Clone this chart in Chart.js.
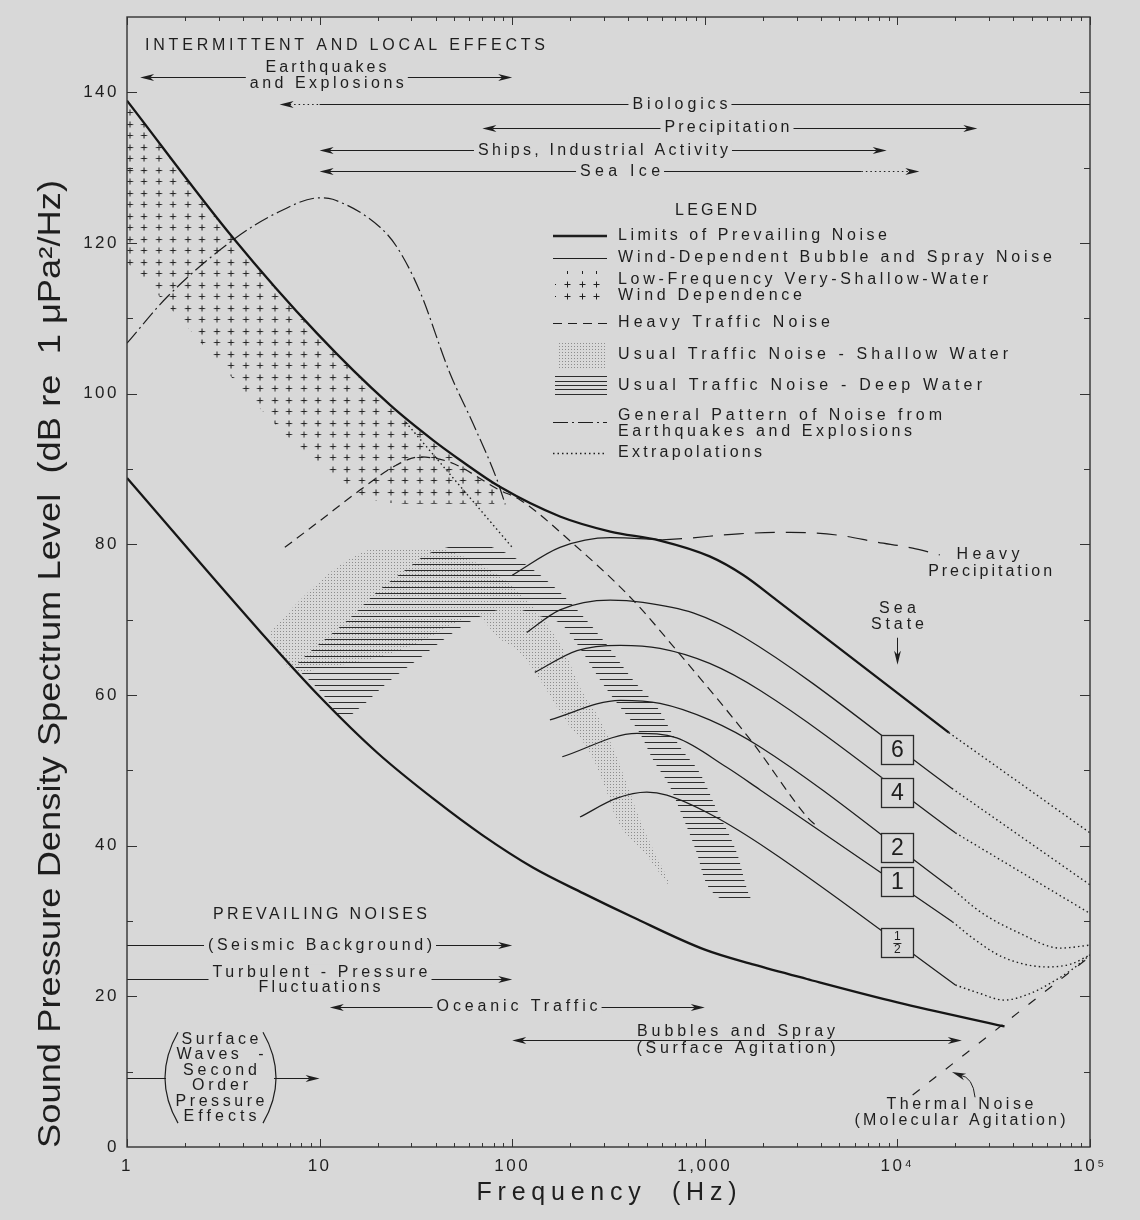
<!DOCTYPE html>
<html>
<head>
<meta charset="utf-8">
<script src="https://cdn.jsdelivr.net/npm/chart.js@4.4.1/dist/chart.umd.min.js"></script>
<style>
  html, body { margin: 0; padding: 0; background: #d8d8d8; }
  canvas { display: block; }
</style>
</head>
<body>
<canvas id="myChart" width="1140" height="1220"></canvas>
<script>
// ---- values: [frequency Hz, level dB re 1 uPa^2/Hz] ----
var freqTicks = [1, 10, 100, 1000, 10000, 100000];
var freqTickLabels = ['1', '10', '100', '1,000', '10\u2074', '10\u2075'];
var dbTicks = [0, 20, 40, 60, 80, 100, 120, 140];

var upperLimit = [[1,138.9],[3.55,120.7],[9.7,108],[23.2,98.5],[38.9,93.8],[53.6,91.2],[86.7,87.6],[177,83.7],[323,81.7],[585,80.5],[1060,78.4],[1590,75.9],[2360,72.6],[18500,55]];
var upperLimitExtrap = [[18500,55],[100000,41.7]];
var lowerLimit = [[1,88.8],[5,68.2],[10,59.8],[20,52.3],[40,46],[70,41.4],[128,37.1],[233,33.7],[424,30.5],[1000,26.2],[1800,24.2],[3390,22.3],[10000,19.2],[36000,16]];

var windTop = [[100,75.9],[177,79.6],[323,80.9],[600,80.6]];
var seaState6 = [[119,68.3],[177,71.3],[323,72.6],[477,72.3],[870,70.9],[1590,67.7],[19200,47.6]];
var seaState6Extrap = [[19200,47.6],[100000,34.8]];
var seaState4 = [[131,63],[217,65.9],[364,66.6],[585,66.2],[1060,64.2],[1940,60.6],[20000,41.7]];
var seaState4Extrap = [[20000,41.7],[100000,31]];
var seaState2 = [[157,56.7],[364,59.3],[585,58.9],[1060,56.7],[1940,53.1],[19000,34.4]];
var seaState2Extrap = [[19000,34.4],[27000,31.2],[43000,28.4],[70000,26.4],[100000,26.8]];
var seaState1 = [[182,51.8],[445,54.9],[715,54.3],[1300,50.4],[1940,47.4],[19300,29.9]];
var seaState1Extrap = [[19300,29.9],[25000,27.6],[35300,25.2],[60000,23.9],[80000,24.3],[100000,25.5]];
var seaStateHalf = [[225,43.8],[350,46.3],[500,47.1],[635,46.7],[1100,44],[2160,39.4],[20000,21.5]];
var seaStateHalfExtrap = [[20000,21.5],[26000,20.5],[36000,19.5],[48000,20.3],[60000,21.5],[80000,23.5],[100000,25.5]];

var heavyTraffic = [[6.6,79.6],[10,83.1],[16.2,87.2],[25,90.5],[33,91.6],[47.5,90.9],[86,87.2],[110,85.9],[207,80.1],[424,72.6],[715,65.9],[1780,53.6],[3400,43.8],[3770,42.7]];
var heavyPrecip = [[600,80.6],[805,80.8],[1500,81.4],[2770,81.6],[5000,81.2],[7800,80.3],[12000,79.5],[16600,78.6]];
var thermalNoise = [[12000,6.9],[100000,25.3]];
var earthquakes = [[1,106.7],[1.61,112.8],[3.55,120.4],[6,124],[10.05,126],[11.7,125.8],[20.6,122.1],[25.3,119.4],[33,113.7],[47.5,102.7],[62.7,96],[83.6,88.5],[92,85.3]];
var lowFreqExtrap = [[28,96.2],[100,79.6]];

var shallowWindLower = [[1,117.4],[16.6,86.5],[28,85.4],[81,85.4]];
var deepOuter = [[7.4,63.8],[8.6,65.4],[13.9,69.9],[20.1,73.8],[28.5,76.8],[34.4,78.4],[39.7,79.1],[55,79.9],[68,79.9],[88.5,79.1],[148,75.4],[225,70.9],[303,67],[424,62],[565,58.4],[743,53.1],[944,49.6],[1157,44.7],[1469,39],[1717,33.2],[1890,32.5]];
var deepInner = [[7.4,63.8],[10,60.6],[13.5,57],[16,58.2],[22.4,61.6],[32,64.6],[46,67.7],[62,69.9],[98,71.5],[134,70.6],[182,69.3],[233,65.6],[286,62],[363,58.4],[461,54.9],[539,51.4],[660,47.8],[743,44.7],[910,39],[1002,35.4],[1172,33.2],[1523,32.5],[1890,32.5]];
var shallowOuter = [[5.5,68.2],[8.2,73],[13.2,77.5],[20.6,79.5],[37.5,79.5],[60,78],[100,74.5],[140,70.5],[188,65.6],[225,61],[286,56.7],[342,52.3],[399,47.8],[461,43.4],[551,39],[644,35.4],[660,34.5]];
var shallowInner = [[5.5,68.2],[6.5,64.5],[8,63],[10,63.5],[20,65],[33,67],[50,69.5],[64,70.5],[86,67.5],[110,65.6],[148,61],[188,56.7],[254,52.3],[303,47.8],[350,43.4],[489,39],[621,35.4],[660,34.5]];

var seaStateLabels = ['6', '4', '2', '1', '\u00bd'];
var seaStateBoxDb = [52.7, 47.1, 39.7, 35.2, 27.1];

// noise source ranges (Hz) drawn as arrows at a given level
var sourceArrows = [
  {db: 142.1, from: 1.17, to: 100, left: true, right: true},
  {db: 138.4, from: 6.2, to: 100000, left: true, dotTo: 10},
  {db: 135.3, from: 70, to: 26000, left: true, right: true},
  {db: 132.3, from: 10, to: 8800, left: true, right: true},
  {db: 129.5, from: 10, to: 13000, left: true, right: true, dotFrom: 6500},
  {db: 26.8, from: 1, to: 100, right: true},
  {db: 22.3, from: 1, to: 100, right: true},
  {db: 18.6, from: 11.3, to: 1000, left: true, right: true},
  {db: 14.2, from: 100, to: 21600, left: true, right: true},
  {db: 9.2, from: 1, to: 10, right: true}
];
var sourceLabels = [
  {t: 'INTERMITTENT AND LOCAL EFFECTS', f: 1.24, db: 146.2, size: 16, w: 400, align: 'left'},
  {t: 'Earthquakes', f: 10.8, db: 143.3, w: 121, knock: true},
  {t: 'and Explosions', f: 10.9, db: 141.2, w: 154, knock: true},
  {t: 'Biologics', f: 743, db: 138.4, w: 95, knock: true},
  {t: 'Precipitation', f: 1304, db: 135.35, w: 125, knock: true},
  {t: 'Ships, Industrial Activity', f: 296, db: 132.3, w: 250, knock: true},
  {t: 'Sea Ice', f: 363, db: 129.5, w: 80, knock: true},
  {t: 'PREVAILING NOISES', f: 10.05, db: 30.8, w: 214},
  {t: '(Seismic Background)', f: 10.05, db: 26.8, w: 224, knock: true},
  {t: 'Turbulent - Pressure', f: 10.05, db: 23.2, w: 215, knock: true},
  {t: 'Fluctuations', f: 10, db: 21.2, w: 122, knock: true},
  {t: 'Oceanic Traffic', f: 106, db: 18.6, w: 161, knock: true},
  {t: 'Bubbles and Spray', f: 1452, db: 15.3, w: 198, knock: true},
  {t: '(Surface Agitation)', f: 1452, db: 13.0, w: 199, knock: true},
  {t: 'Thermal Noise', f: 21130, db: 5.6, w: 147},
  {t: '(Molecular Agitation)', f: 21130, db: 3.45, w: 211},
  {t: 'Heavy', f: 29540, db: 78.6, w: 63},
  {t: 'Precipitation', f: 30300, db: 76.4, w: 124},
  {t: 'Sea', f: 10000, db: 71.5, w: 37},
  {t: 'State', f: 10000, db: 69.4, w: 53}
];
var surfaceWaveLines = ['Surface', 'Waves  -', 'Second', 'Order', 'Pressure', 'Effects'];
var surfaceWaveDb = [14.3, 12.2, 10.1, 8.1, 6.0, 4.0];
var surfaceWaveW = [77, 87, 74, 56, 89, 73];

// ---- styles ----
var BG = '#d8d8d8';
var INK = '#1e1e1e';
var FAMILY = "'Liberation Sans', Arial, Helvetica, sans-serif";
var LABEL_SIZE = 16;

var canvas = document.getElementById('myChart');
var ctx0 = canvas.getContext('2d');

function makePattern(w, h, draw) {
  var c = document.createElement('canvas');
  c.width = w; c.height = h;
  draw(c.getContext('2d'));
  return ctx0.createPattern(c, 'repeat');
}
var plusPattern = makePattern(29, 23, function (g) {
  g.strokeStyle = '#262626'; g.lineWidth = 1;
  [[7.5, 5.5], [21.5, 5.5], [7.5, 17.5], [21.5, 17.5]].forEach(function (p) {
    g.beginPath();
    g.moveTo(p[0] - 3, p[1]); g.lineTo(p[0] + 3, p[1]);
    g.moveTo(p[0], p[1] - 3); g.lineTo(p[0], p[1] + 3);
    g.stroke();
  });
});
if (plusPattern.setTransform) plusPattern.setTransform(new DOMMatrix([1, 0, 0, 1, 6.5, 15]));
var hatchPattern = makePattern(8, 23, function (g) {
  g.fillStyle = '#2c2c2c';
  [0, 6, 12, 18].forEach(function (y) { g.fillRect(0, y, 8, 1); });
});
var stipplePattern = makePattern(3, 3, function (g) {
  g.fillStyle = '#8c8c8c';
  g.fillRect(1, 1, 1, 1);
});

var THICK = {borderWidth: 2.3, borderColor: '#161616'};
var THIN = {borderWidth: 1.25};
var DOTTED = {borderWidth: 1.4, borderDash: [1.5, 3]};
var HIDDEN = {borderWidth: 0, borderColor: 'rgba(0,0,0,0)'};

var datasets = [];
function addLine(points, style) {
  var ds = Object.assign({
    data: points.map(function (p) { return {x: p[0], y: p[1]}; }),
    borderColor: INK, borderWidth: 1.2, pointRadius: 0, fill: false,
    cubicInterpolationMode: 'monotone', borderJoinStyle: 'round'
  }, style);
  datasets.push(ds);
  return datasets.length - 1;
}

var iUpper = addLine(upperLimit, Object.assign({backgroundColor: plusPattern}, THICK));
addLine(upperLimitExtrap, DOTTED);
addLine(lowerLimit, THICK);
addLine(windTop, THIN);
addLine(seaState6, THIN);
addLine(seaState6Extrap, DOTTED);
addLine(seaState4, THIN);
addLine(seaState4Extrap, DOTTED);
addLine(seaState2, THIN);
addLine(seaState2Extrap, DOTTED);
addLine(seaState1, THIN);
addLine(seaState1Extrap, DOTTED);
addLine(seaStateHalf, THIN);
addLine(seaStateHalfExtrap, DOTTED);
addLine(heavyTraffic, {borderWidth: 1.2, borderDash: [9, 6]});
addLine(heavyPrecip, {borderWidth: 1.2, borderDash: [20, 11]});
addLine(thermalNoise, {borderWidth: 1.2, borderDash: [9, 12]});
addLine(earthquakes, {borderWidth: 1.2, borderDash: [15, 4, 2, 4]});
addLine(lowFreqExtrap, DOTTED);
var iPlusLower = addLine(shallowWindLower, HIDDEN);
datasets[iUpper].fill = iPlusLower;
addLine(deepOuter, Object.assign({fill: '+1', backgroundColor: hatchPattern}, HIDDEN));
addLine(deepInner, HIDDEN);
addLine(shallowOuter, Object.assign({fill: '+1', backgroundColor: stipplePattern}, HIDDEN));
addLine(shallowInner, HIDDEN);

// ---- drawing helpers ----
function text(ctx, s, x, y, size, w, align, knock) {
  ctx.font = size + 'px ' + FAMILY;
  ctx.letterSpacing = '0px';
  var nat = ctx.measureText(s).width;
  var width = w || nat;
  var sp = (w && s.length > 1) ? (w - nat) / (s.length - 1) : 0;
  var x0 = align === 'left' ? x : x - width / 2;
  if (knock) {
    ctx.fillStyle = BG;
    ctx.fillRect(x0 - 4, y - 8, width + 8, 16);
  }
  ctx.fillStyle = INK;
  ctx.letterSpacing = sp + 'px';
  ctx.textAlign = 'left';
  ctx.textBaseline = 'middle';
  ctx.fillText(s, x0, y);
  ctx.letterSpacing = '0px';
}
function head(ctx, x, y, ang) {
  var L = 14, W = 3.4;
  var c = Math.cos(ang), s = Math.sin(ang);
  ctx.beginPath();
  ctx.moveTo(x, y);
  ctx.lineTo(x - L * c + W * s, y - L * s - W * c);
  ctx.lineTo(x - 10 * c, y - 10 * s);
  ctx.lineTo(x - L * c - W * s, y - L * s + W * c);
  ctx.closePath();
  ctx.fill();
}
function seg(ctx, x1, y1, x2, y2, dash) {
  ctx.setLineDash(dash || []);
  ctx.beginPath(); ctx.moveTo(x1, y1); ctx.lineTo(x2, y2); ctx.stroke();
  ctx.setLineDash([]);
}

function drawAnnotations(chart) {
  var ctx = chart.ctx, xs = chart.scales.x, ys = chart.scales.y;
  var X = function (f) { return xs.getPixelForValue(f); };
  var Y = function (d) { return ys.getPixelForValue(d); };
  ctx.save();
  ctx.strokeStyle = INK; ctx.fillStyle = INK; ctx.lineWidth = 1;

  sourceArrows.forEach(function (a) {
    var y = Math.round(Y(a.db)) + 0.5;
    var x1 = X(a.from), x2 = X(a.to);
    var s = a.left ? x1 + 10 : x1, e = a.right ? x2 - 10 : x2;
    if (a.dotTo) { seg(ctx, s, y, X(a.dotTo), y, [1.5, 3]); seg(ctx, X(a.dotTo), y, e, y); }
    else if (a.dotFrom) { seg(ctx, s, y, X(a.dotFrom), y); seg(ctx, X(a.dotFrom), y, e, y, [1.5, 3]); }
    else seg(ctx, s, y, e, y);
    if (a.left) head(ctx, x1, y, Math.PI);
    if (a.right) head(ctx, x2, y, 0);
  });

  sourceLabels.forEach(function (l) {
    text(ctx, l.t, X(l.f), Y(l.db), l.size || LABEL_SIZE, l.w, l.align, l.knock);
  });

  // surface waves block with its big brackets
  var cx = X(3.04), top = Y(15.5), bot = Y(2.9);
  ctx.fillStyle = BG;
  ctx.fillRect(cx - 54, top, 108, bot - top);
  surfaceWaveLines.forEach(function (s, i) {
    text(ctx, s, cx, Y(surfaceWaveDb[i]), LABEL_SIZE, surfaceWaveW[i]);
  });
  ctx.lineWidth = 1.2;
  ctx.beginPath();
  ctx.moveTo(cx - 42, top + 2); ctx.quadraticCurveTo(cx - 68, (top + bot) / 2, cx - 42, bot - 2);
  ctx.moveTo(cx + 43, top + 2); ctx.quadraticCurveTo(cx + 69, (top + bot) / 2, cx + 43, bot - 2);
  ctx.stroke();

  // sea state arrow
  ctx.lineWidth = 1;
  var sx = Math.round(X(10000)) + 0.5;
  seg(ctx, sx, Y(67.6), sx, Y(64.6));
  ctx.fillStyle = INK;
  head(ctx, sx, Y(64.0), Math.PI / 2);

  // thermal noise pointer
  var tx = X(25300), ty = Y(6.6), hx = X(19200), hy = Y(9.95);
  ctx.beginPath();
  ctx.moveTo(tx, ty);
  ctx.quadraticCurveTo(tx - 2, hy + 5, hx + 8, hy + 3);
  ctx.stroke();
  head(ctx, hx, hy, Math.atan2(-3, -8));

  // sea state boxes
  seaStateLabels.forEach(function (lab, i) {
    var bx = X(10000), by = Y(seaStateBoxDb[i]);
    ctx.fillStyle = BG;
    ctx.fillRect(bx - 16, by - 14.5, 32, 29);
    ctx.lineWidth = 1.3; ctx.strokeStyle = '#2a2a2a';
    ctx.strokeRect(Math.round(bx - 16) + 0.5, Math.round(by - 14.5) + 0.5, 32, 29);
    ctx.fillStyle = INK;
    ctx.textAlign = 'center'; ctx.textBaseline = 'middle';
    if (lab === '\u00bd') {
      ctx.font = '12px ' + FAMILY;
      ctx.fillText('1', bx, by - 6.5);
      ctx.fillText('2', bx, by + 7);
      ctx.lineWidth = 1;
      seg(ctx, bx - 4, Math.round(by) + 0.5, bx + 4, Math.round(by) + 0.5);
    } else {
      ctx.font = '23px ' + FAMILY;
      ctx.fillText(lab, bx, by + 1);
    }
  });
  ctx.restore();
}

function drawLegend(chart) {
  var ctx = chart.ctx;
  var a = 553, b = 607, tx = 618, fs = LABEL_SIZE;
  ctx.save();
  ctx.strokeStyle = INK; ctx.fillStyle = INK;
  text(ctx, 'LEGEND', 716, 211, fs, 82);
  ctx.lineWidth = 2.3; seg(ctx, a, 236, b, 236);
  text(ctx, 'Limits of Prevailing Noise', tx, 236, fs, 269, 'left');
  ctx.lineWidth = 1.2; seg(ctx, a, 258.5, b, 258.5);
  text(ctx, 'Wind-Dependent Bubble and Spray Noise', tx, 258, fs, 434, 'left');
  ctx.lineWidth = 1;
  [284.5, 296.5].forEach(function (y) {
    [567.5, 582.5, 596.5].forEach(function (x) {
      seg(ctx, x - 3, y, x + 3, y); seg(ctx, x, y - 3, x, y + 3);
    });
    ctx.fillRect(555, y - 0.5, 1, 1);
  });
  [567.5, 582.5, 596.5].forEach(function (x) { seg(ctx, x, 271, x, 274); });
  text(ctx, 'Low-Frequency Very-Shallow-Water', tx, 280, fs, 370, 'left');
  text(ctx, 'Wind Dependence', tx, 296, fs, 184, 'left');
  ctx.lineWidth = 1.2; seg(ctx, a, 323.5, b, 323.5, [9, 6]);
  text(ctx, 'Heavy Traffic Noise', tx, 323, fs, 212, 'left');
  ctx.fillStyle = stipplePattern; ctx.fillRect(557, 343, 48, 25);
  text(ctx, 'Usual Traffic Noise - Shallow Water', tx, 355, fs, 390, 'left');
  ctx.lineWidth = 1; ctx.strokeStyle = '#2c2c2c';
  [376.5, 381.5, 385.5, 389.5, 394.5].forEach(function (y) { seg(ctx, 555, y, 607, y); });
  ctx.strokeStyle = INK;
  text(ctx, 'Usual Traffic Noise - Deep Water', tx, 386, fs, 364, 'left');
  ctx.lineWidth = 1.2; seg(ctx, a, 422.5, b, 422.5, [15, 4, 2, 4]);
  text(ctx, 'General Pattern of Noise from', tx, 416, fs, 324, 'left');
  text(ctx, 'Earthquakes and Explosions', tx, 432, fs, 294, 'left');
  ctx.lineWidth = 1.4; seg(ctx, a, 453.5, b, 453.5, [1.5, 3]);
  text(ctx, 'Extrapolations', tx, 453, fs, 144, 'left');
  ctx.restore();
}

function drawFrame(chart) {
  var ctx = chart.ctx, xs = chart.scales.x, ys = chart.scales.y, ca = chart.chartArea;
  ctx.save();
  ctx.strokeStyle = '#333'; ctx.lineWidth = 1.4;
  ctx.strokeRect(ca.left, ca.top, ca.right - ca.left, ca.bottom - ca.top);
  ctx.lineWidth = 1;
  for (var d = 1; d <= 100000; d *= 10) {
    for (var m = 1; m <= 9; m++) {
      var v = m * d;
      if (v > 100000) break;
      var x = Math.round(xs.getPixelForValue(v)) + 0.5;
      var len = m === 1 ? 8 : 4;
      seg(ctx, x, ca.bottom, x, ca.bottom - len);
      seg(ctx, x, ca.top, x, ca.top + len);
    }
  }
  for (var db = 10; db < 150; db += 10) {
    var y = Math.round(ys.getPixelForValue(db)) + 0.5;
    var l = db % 20 === 0 ? 10 : 6;
    seg(ctx, ca.left, y, ca.left + l, y);
    seg(ctx, ca.right, y, ca.right - l, y);
  }
  ctx.restore();
}

function drawTitles(chart) {
  var ctx = chart.ctx, ca = chart.chartArea;
  ctx.save();
  text(ctx, 'Frequency  (Hz)', (ca.left + ca.right) / 2 - 2, 1193, 25, 260);
  ctx.translate(60, 664);
  ctx.rotate(-Math.PI / 2);
  ctx.font = '31px ' + FAMILY;
  ctx.letterSpacing = '0px';
  var s = 'Sound Pressure Density Spectrum Level  (dB re  1 \u03bcPa\u00b2/Hz)';
  var nat = ctx.measureText(s).width;
  ctx.scale(968 / nat, 1);
  ctx.fillStyle = INK;
  ctx.textAlign = 'center';
  ctx.textBaseline = 'alphabetic';
  ctx.fillText(s, 0, 0);
  ctx.restore();
}

var decor = {
  id: 'decor',
  beforeDraw: function (chart) { chart.ctx.letterSpacing = '2.5px'; },
  beforeDatasetsDraw: function (chart) { chart.ctx.letterSpacing = '0px'; },
  afterDatasetsDraw: function (chart) { drawAnnotations(chart); drawLegend(chart); },
  afterDraw: function (chart) { chart.ctx.letterSpacing = '0px'; drawFrame(chart); drawTitles(chart); }
};

var tickFont = {family: FAMILY, size: 17};
var myChart = new Chart(canvas, {
  type: 'line',
  data: {datasets: datasets},
  options: {
    responsive: false,
    animation: false,
    devicePixelRatio: 1,
    layout: {padding: {top: 17, right: 50, left: 0, bottom: 0}},
    plugins: {
      legend: {display: false},
      tooltip: {enabled: false},
      filler: {drawTime: 'beforeDatasetsDraw'}
    },
    elements: {point: {radius: 0}},
    scales: {
      x: {
        type: 'logarithmic', min: 1, max: 100000,
        grid: {display: false, drawTicks: false},
        border: {display: false},
        ticks: {
          autoSkip: false, maxRotation: 0, padding: 9, color: INK, font: tickFont,
          callback: function (v, i) { return freqTickLabels[i]; }
        },
        afterBuildTicks: function (s) { s.ticks = freqTicks.map(function (v) { return {value: v}; }); },
        afterFit: function (s) { s.height = 73; s.paddingLeft = 0; s.paddingRight = 0; }
      },
      y: {
        type: 'linear', min: 0, max: 150,
        grid: {display: false, drawTicks: false},
        border: {display: false},
        ticks: {padding: 8, color: INK, font: tickFont},
        afterBuildTicks: function (s) { s.ticks = dbTicks.map(function (v) { return {value: v}; }); },
        afterFit: function (s) { s.width = 127; s.paddingTop = 0; s.paddingBottom = 0; }
      }
    }
  },
  plugins: [decor]
});
</script>
</body>
</html>
